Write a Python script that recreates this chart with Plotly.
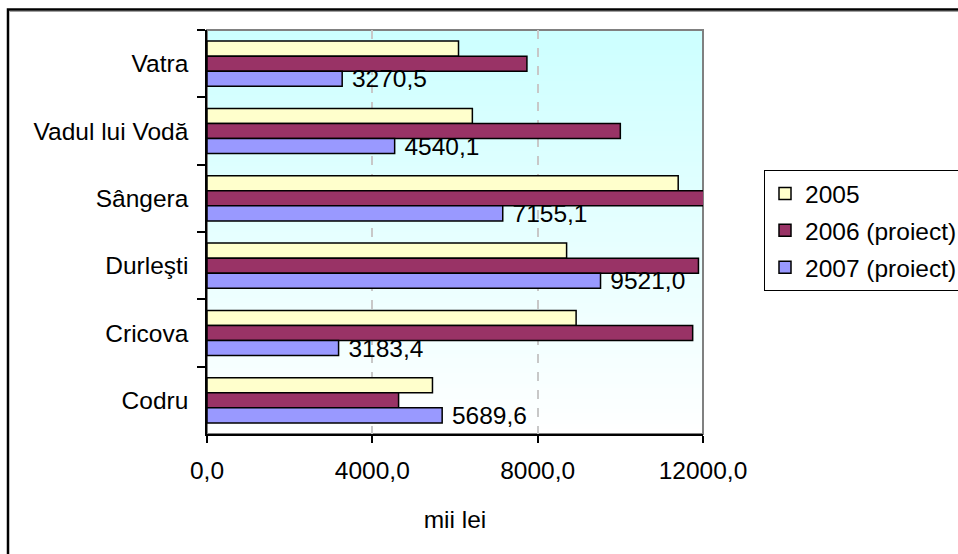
import plotly.graph_objects as go

# Localities, top to bottom
categories = ["Vatra", "Vadul lui Vodă", "Sângera", "Durleşti", "Cricova", "Codru"]
series_names = ["2005", "2006 (proiect)", "2007 (proiect)"]
values_2005 = [6085, 6420, 11400, 8700, 8930, 5455]
values_2006 = [7740, 10000, 12150, 11890, 11750, 4635]
values_2007 = [3270.5, 4540.1, 7155.1, 9521.0, 3183.4, 5689.6]
x_ticks = [0, 4000, 8000, 12000]

colors = ["#FFFFCC", "#993366", "#9999FF"]
FONT = "Liberation Sans, Arial, sans-serif"
FS = 24.5

W, H = 958, 554
ML, MR, MT, MB = 207, 255, 30, 120
PW, PH = W - ML - MR, H - MT - MB


def px_x(p):
    return (p - ML) / PW


def px_y(p):
    return (H - MB - p) / PH


fig = go.Figure()
all_values = [values_2005, values_2006, values_2007]
for i, (name, vals) in enumerate(zip(series_names, all_values)):
    kw = {}
    if i == 2:
        kw = dict(
            texttemplate="\u00a0%{x:.1f}",
            textposition="outside",
            outsidetextfont=dict(family=FONT, size=FS, color="black"),
            constraintext="none",
            cliponaxis=False,
        )
    fig.add_trace(go.Bar(
        y=categories, x=vals, name=name, orientation="h",
        marker=dict(color=colors[i], line=dict(color="black", width=1.5)),
        legendgroup=name, hoverinfo="skip", **kw,
    ))

# vertical gradient of the plotting area (light cyan at top to white at bottom)
shapes = []
N = 80
top = (204, 255, 255)
bot = (255, 255, 255)
for k in range(N):
    t = (k + 0.5) / N  # 0 at bottom, 1 at top
    c = tuple(round(bot[j] + (top[j] - bot[j]) * t) for j in range(3))
    shapes.append(dict(
        type="rect", xref="x domain", yref="y domain",
        x0=0, x1=1, y0=k / N, y1=(k + 1) / N + 0.002,
        fillcolor="rgb(%d,%d,%d)" % c, line=dict(width=0), layer="below",
    ))
# grey frame of the plotting area
shapes.append(dict(type="rect", xref="x domain", yref="y domain", x0=0, x1=1, y0=0, y1=1,
                   line=dict(color="#808080", width=2), layer="below"))
# outer chart border
shapes.append(dict(type="rect", xref="paper", yref="paper",
                   x0=px_x(8), x1=px_x(990), y0=px_y(600), y1=px_y(9.5),
                   line=dict(color="black", width=2.5), layer="above"))
shapes.append(dict(type="line", xref="paper", yref="paper",
                   x0=px_x(9.5), x1=px_x(990), y0=px_y(11.5), y1=px_y(11.5),
                   line=dict(color="#A0A0A0", width=1), layer="above"))

fig.update_layout(
    width=W, height=H,
    margin=dict(l=ML, r=MR, t=MT, b=MB, autoexpand=False),
    template="none",
    paper_bgcolor="white",
    plot_bgcolor="white",
    separators=",.",
    barmode="group",
    bargap=0.33,
    bargroupgap=0,
    font=dict(family=FONT, size=FS, color="black"),
    shapes=shapes,
    showlegend=True,
    legend=dict(
        x=px_x(764), y=px_y(170), xanchor="left", yanchor="top",
        bgcolor="white", bordercolor="black", borderwidth=1,
        font=dict(family=FONT, size=FS, color="black"),
        traceorder="grouped", tracegroupgap=2,
    ),
    xaxis=dict(
        range=[0, 12000], tickvals=x_ticks, tickformat=".1f",
        showgrid=True, gridcolor="#C8C8C8", griddash="dash", gridwidth=1.5,
        showline=True, linecolor="black", linewidth=1.5,
        ticks="outside", ticklen=7, tickcolor="black", tickwidth=1.5,
        ticklabelstandoff=7, zeroline=False,
        title=dict(text="mii lei", standoff=28, font=dict(family=FONT, size=FS)),
        tickfont=dict(family=FONT, size=FS),
    ),
    yaxis=dict(
        autorange="reversed", type="category",
        showgrid=False, zeroline=False,
        showline=True, linecolor="black", linewidth=1.5,
        ticks="outside", tickson="boundaries", ticklen=8, tickcolor="black", tickwidth=1.5,
        ticklabelstandoff=12,
        tickfont=dict(family=FONT, size=FS),
    ),
)

fig.write_html("out.html")
